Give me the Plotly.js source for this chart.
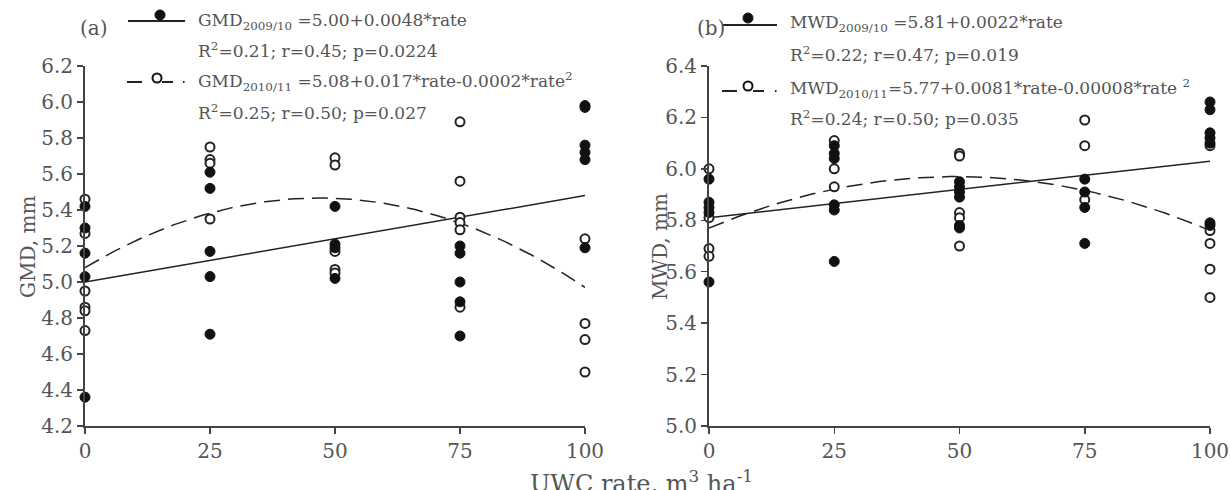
<!DOCTYPE html>
<html>
<head>
<meta charset="utf-8">
<script src="https://cdn.plot.ly/plotly-3.0.1.min.js"></script>
<style>
  html, body { margin: 0; padding: 0; background: #fff; }
  #chart { width: 1230px; height: 490px; }
</style>
</head>
<body>
<div id="chart"></div>
<script>
// UWC application rates (m3/ha)
const rates = [0, 25, 50, 75, 100];
const rateTicks = ['0', '25', '50', '75', '100'];

// GMD, 2009/10 season (filled circles)
const gmd0910Rate = [0, 0, 0, 0, 0, 25, 25, 25, 25, 25, 50, 50, 50, 50, 75, 75, 75, 75, 75, 100, 100, 100, 100, 100, 100];
const gmd0910 = [5.42, 5.30, 5.16, 5.03, 4.36, 5.61, 5.52, 5.17, 5.03, 4.71, 5.42, 5.21, 5.19, 5.02, 5.20, 5.16, 5.00, 4.89, 4.70, 5.98, 5.97, 5.76, 5.72, 5.68, 5.19];
// GMD, 2010/11 season (open circles)
const gmd1011Rate = [0, 0, 0, 0, 0, 0, 25, 25, 25, 25, 50, 50, 50, 50, 50, 75, 75, 75, 75, 75, 75, 100, 100, 100, 100];
const gmd1011 = [5.46, 5.27, 4.95, 4.86, 4.84, 4.73, 5.75, 5.68, 5.66, 5.35, 5.69, 5.65, 5.17, 5.07, 5.05, 5.89, 5.56, 5.36, 5.33, 5.29, 4.86, 5.24, 4.77, 4.68, 4.50];

// MWD, 2009/10 season (filled circles)
const mwd0910Rate = [0, 0, 0, 0, 0, 25, 25, 25, 25, 25, 25, 50, 50, 50, 50, 50, 50, 75, 75, 75, 75, 100, 100, 100, 100, 100, 100, 100];
const mwd0910 = [5.96, 5.87, 5.85, 5.83, 5.56, 6.09, 6.06, 6.04, 5.86, 5.84, 5.64, 5.95, 5.93, 5.91, 5.89, 5.78, 5.77, 5.96, 5.91, 5.85, 5.71, 6.26, 6.23, 6.14, 6.12, 6.10, 5.79, 5.78];
// MWD, 2010/11 season (open circles)
const mwd1011Rate = [0, 0, 0, 0, 25, 25, 25, 50, 50, 50, 50, 50, 75, 75, 75, 100, 100, 100, 100, 100];
const mwd1011 = [6.00, 5.81, 5.69, 5.66, 6.11, 6.00, 5.93, 6.06, 6.05, 5.83, 5.81, 5.70, 6.19, 6.09, 5.88, 6.09, 5.76, 5.71, 5.61, 5.50];

// Regression coefficients [intercept, linear, quadratic]
const gmdFit0910 = [5.00, 0.0048, 0];
const gmdFit1011 = [5.08, 0.0165, -0.000176];
const mwdFit0910 = [5.81, 0.0022, 0];
const mwdFit1011 = [5.77, 0.0081, -0.000082];

// Legend / annotation texts
const legendA = [
  'GMD<sub>2009/10</sub> =5.00+0.0048*rate',
  'R<sup>2</sup>=0.21; r=0.45; p=0.0224',
  'GMD<sub>2010/11</sub> =5.08+0.017*rate-0.0002*rate<sup>2</sup>',
  'R<sup>2</sup>=0.25; r=0.50; p=0.027'
];
const legendB = [
  'MWD<sub>2009/10</sub> =5.81+0.0022*rate',
  'R<sup>2</sup>=0.22; r=0.47; p=0.019',
  'MWD<sub>2010/11</sub>=5.77+0.0081*rate-0.00008*rate <sup>2</sup>',
  'R<sup>2</sup>=0.24; r=0.50; p=0.035'
];

const FONT = 'DejaVu Serif, serif';
const TXT = '#555';
const AX = '#444';

// figure geometry (pixels)
const W = 1230, H = 490;
const M = {l: 85, r: 20, t: 66, b: 64};
const PW = W - M.l - M.r, PH = H - M.t - M.b;
const px = x => (x - M.l) / PW;
const py = y => (H - M.b - y) / PH;

function fitCurve(c) {
  const xs = [], ys = [];
  for (let r = 0; r <= 100; r += 1) {
    xs.push(r);
    ys.push(c[0] + c[1] * r + c[2] * r * r);
  }
  return {xs, ys};
}

function curveTrace(c, xa, ya, dash) {
  const f = fitCurve(c);
  return {
    x: f.xs, y: f.ys, xaxis: xa, yaxis: ya, type: 'scatter', mode: 'lines',
    line: {color: '#222', width: 1.5, dash: dash}, hoverinfo: 'skip', showlegend: false
  };
}

function pointTrace(xs, ys, xa, ya, filled) {
  return {
    x: xs, y: ys, xaxis: xa, yaxis: ya, type: 'scatter', mode: 'markers',
    cliponaxis: false, showlegend: false,
    marker: filled
      ? {symbol: 'circle', size: 10, color: '#111', line: {color: '#111', width: 1}}
      : {symbol: 'circle', size: 9, color: '#fff', line: {color: '#222', width: 2}}
  };
}

const DASH = '16px,8px';
const traces = [
  curveTrace(gmdFit0910, 'x', 'y', 'solid'),
  curveTrace(gmdFit1011, 'x', 'y', DASH),
  pointTrace(gmd1011Rate, gmd1011, 'x', 'y', false),
  pointTrace(gmd0910Rate, gmd0910, 'x', 'y', true),
  curveTrace(mwdFit0910, 'x2', 'y2', 'solid'),
  curveTrace(mwdFit1011, 'x2', 'y2', DASH),
  pointTrace(mwd1011Rate, mwd1011, 'x2', 'y2', false),
  pointTrace(mwd0910Rate, mwd0910, 'x2', 'y2', true)
];

function xAxis(domain, anchor) {
  return {
    domain: domain, anchor: anchor, range: [0, 100],
    tickmode: 'array', tickvals: rates, ticktext: rateTicks,
    showline: true, linecolor: AX, linewidth: 2,
    ticks: 'outside', ticklen: 6, tickwidth: 1.5, tickcolor: AX,
    showgrid: false, zeroline: false,
    tickfont: {family: FONT, size: 20, color: TXT}, fixedrange: true
  };
}
function yAxis(range, anchor) {
  return {
    domain: [0, 1], anchor: anchor, range: range, dtick: 0.2, tick0: range[0],
    tickformat: '.1f',
    showline: true, linecolor: AX, linewidth: 2,
    ticks: 'outside', ticklen: 6, tickwidth: 1.5, tickcolor: AX,
    showgrid: false, zeroline: false,
    tickfont: {family: FONT, size: 20, color: TXT}, fixedrange: true
  };
}

// legend glyphs: line sample with a marker resting on it
const shapes = [];
function legendGlyph(x0, x1, yLine, xm, ym, filled, dashed, xDot) {
  if (dashed) {
    shapes.push({type: 'line', xref: 'paper', yref: 'paper', x0: px(x0), x1: px(xm - 10), y0: py(yLine), y1: py(yLine),
      line: {color: '#222', width: 2, dash: '15px,7px'}});
    shapes.push({type: 'line', xref: 'paper', yref: 'paper', x0: px(xm + 5), x1: px(xm + 16), y0: py(yLine), y1: py(yLine),
      line: {color: '#222', width: 2}});
    shapes.push({type: 'line', xref: 'paper', yref: 'paper', x0: px(xDot), x1: px(xDot + 1.5), y0: py(yLine), y1: py(yLine),
      line: {color: '#222', width: 2}});
  } else {
    shapes.push({type: 'line', xref: 'paper', yref: 'paper', x0: px(x0), x1: px(x1), y0: py(yLine), y1: py(yLine),
      line: {color: '#222', width: 2}});
  }
  const r = filled ? 5 : 4.5;
  shapes.push({type: 'circle', xref: 'paper', yref: 'paper', xsizemode: 'pixel', ysizemode: 'pixel',
    xanchor: px(xm), yanchor: py(ym), x0: -r, x1: r, y0: -r, y1: r,
    fillcolor: filled ? '#111' : '#fff', line: {color: '#111', width: filled ? 1 : 2}});
}
legendGlyph(128, 185, 21, 160, 15, true, false);
legendGlyph(127, 0, 82, 157, 78, false, true, 183);
legendGlyph(722, 777, 25, 748, 18, true, false);
legendGlyph(722, 0, 91, 748, 86, false, true, 775);

const annotations = [];
function label(text, x, y, opts) {
  annotations.push(Object.assign({
    text: text, xref: 'paper', yref: 'paper', x: px(x), y: py(y),
    xanchor: 'left', yanchor: 'middle', showarrow: false,
    font: {family: FONT, size: 17, color: TXT}
  }, opts || {}));
}
// legend texts
label(legendA[0], 196, 21);
label(legendA[1], 196, 50);
label(legendA[2], 196, 82);
label(legendA[3], 196, 112);
label(legendB[0], 788, 24);
label(legendB[1], 788, 54);
label(legendB[2], 788, 88);
label(legendB[3], 788, 118);
// panel tags
label('(a)', 78, 28, {font: {family: FONT, size: 20, color: TXT}});
label('(b)', 695, 28, {font: {family: FONT, size: 20, color: TXT}});
// axis titles
label('GMD, mm', 28, 247, {xanchor: 'center', textangle: -90, font: {family: FONT, size: 20, color: TXT}});
label('MWD, mm', 660, 247, {xanchor: 'center', textangle: -90, font: {family: FONT, size: 20, color: TXT}});
label('UWC rate, m<sup>3</sup> ha<sup>-1</sup>', 641, 464, {xanchor: 'center', yanchor: 'top', font: {family: FONT, size: 24, color: TXT}});

const layout = {
  width: W, height: H, margin: M,
  paper_bgcolor: '#fff', plot_bgcolor: '#fff',
  showlegend: false,
  xaxis: xAxis([0, px(585)], 'y'),
  yaxis: yAxis([4.2, 6.2], 'x'),
  xaxis2: xAxis([px(709), 1], 'y2'),
  yaxis2: yAxis([5.0, 6.4], 'x2'),
  shapes: shapes,
  annotations: annotations
};

Plotly.newPlot('chart', traces, layout, {staticPlot: true, displayModeBar: false});
</script>
</body>
</html>
